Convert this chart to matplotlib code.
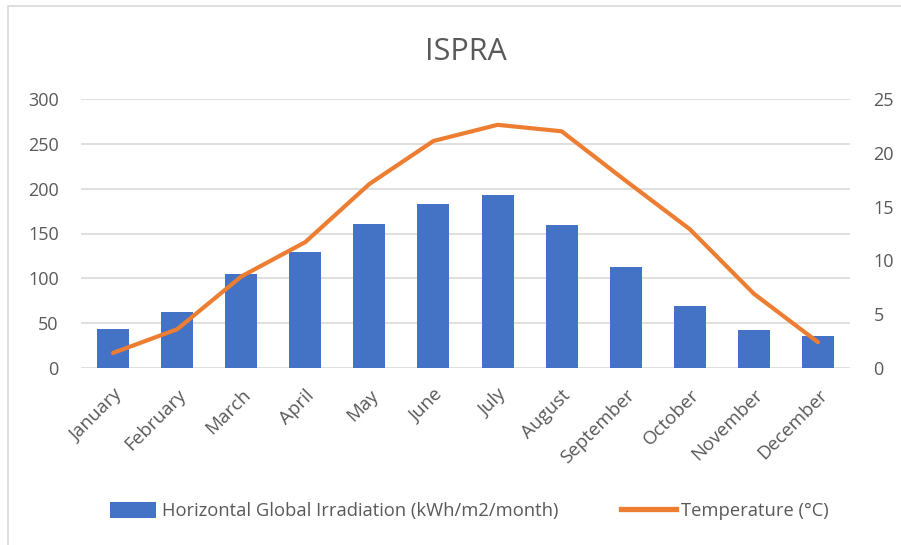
import matplotlib

matplotlib.use("Agg")
import matplotlib.pyplot as plt
from matplotlib.legend_handler import HandlerPatch
from matplotlib.lines import Line2D
from matplotlib.patches import Patch, Rectangle
import numpy as np

months = ["January", "February", "March", "April", "May", "June", "July",
          "August", "September", "October", "November", "December"]
irradiation = [44, 62, 105, 129, 161, 183, 193, 159, 113, 69, 42, 36]
temperature = [1.4, 3.6, 8.5, 11.7, 17.1, 21.1, 22.6, 22.0, 17.4, 12.9, 6.9, 2.4]

irr_label = "Horizontal Global Irradiation (kWh/m2/month)"
temp_label = "Temperature (°C)"

BLUE = "#4472C4"
ORANGE = "#ED7D31"
TEXT = "#595959"
GRID = "#D9D9D9"

plt.rcParams["font.family"] = ["Open Sans", "DejaVu Sans"]


def narrow_patch(legend, orig_handle, xdescent, ydescent, width, height, fontsize):
    # Excel-style legend key: a slightly narrower, taller box than the line key
    w = width * 0.85
    h = height * 1.15
    return Rectangle((-xdescent + (width - w), -ydescent - (h - height) / 2), w, h)


fig = plt.figure(figsize=(9.01, 5.45), dpi=100)
fig.patches.append(Rectangle((8 / 901, -0.1), 1.2, 1 - 6 / 545 + 0.1,
                             transform=fig.transFigure, fill=False,
                             edgecolor=GRID, linewidth=1.2))

ax = fig.add_axes([81 / 901, 1 - 368 / 545, 769 / 901, 269 / 545])
ax2 = ax.twinx()

x = np.arange(len(months))
ax.bar(x, irradiation, width=0.5, color=BLUE, zorder=2)
ax2.plot(x, temperature, color=ORANGE, linewidth=3.0, solid_capstyle="round",
         solid_joinstyle="round", zorder=3)

ax.set_xlim(-0.5, len(months) - 0.5)
ax.set_ylim(0, 300)
ax.set_yticks(range(0, 301, 50))
ax2.set_ylim(0, 25)
ax2.set_yticks(range(0, 26, 5))

ax.yaxis.grid(True, color=GRID, linewidth=1.2, zorder=0)
ax.set_axisbelow(True)

for a in (ax, ax2):
    for side in ("top", "left", "right", "bottom"):
        a.spines[side].set_visible(False)
    a.tick_params(length=0, labelsize=13, labelcolor=TEXT)

ax.tick_params(axis="y", pad=16)
ax2.tick_params(axis="y", pad=17)
ax.set_xticks(x)
ax.set_xticklabels(months, rotation=45, ha="right", rotation_mode="anchor")
ax.tick_params(axis="x", pad=13, labelsize=13.5)

ax.set_title("ISPRA", fontsize=22, color=TEXT, pad=28)

handles = [
    Patch(facecolor=BLUE, edgecolor="none"),
    Line2D([0], [0], color=ORANGE, linewidth=3.8),
]
fig.legend(handles, [irr_label, temp_label], loc="center",
           bbox_to_anchor=(465 / 901, 1 - 511 / 545), ncol=2, frameon=False,
           fontsize=13.2, labelcolor=TEXT, handlelength=3.0, handleheight=0.8,
           handletextpad=0.3, columnspacing=3.4,
           handler_map={Patch: HandlerPatch(patch_func=narrow_patch)})

fig.savefig("out.png", dpi=100)
